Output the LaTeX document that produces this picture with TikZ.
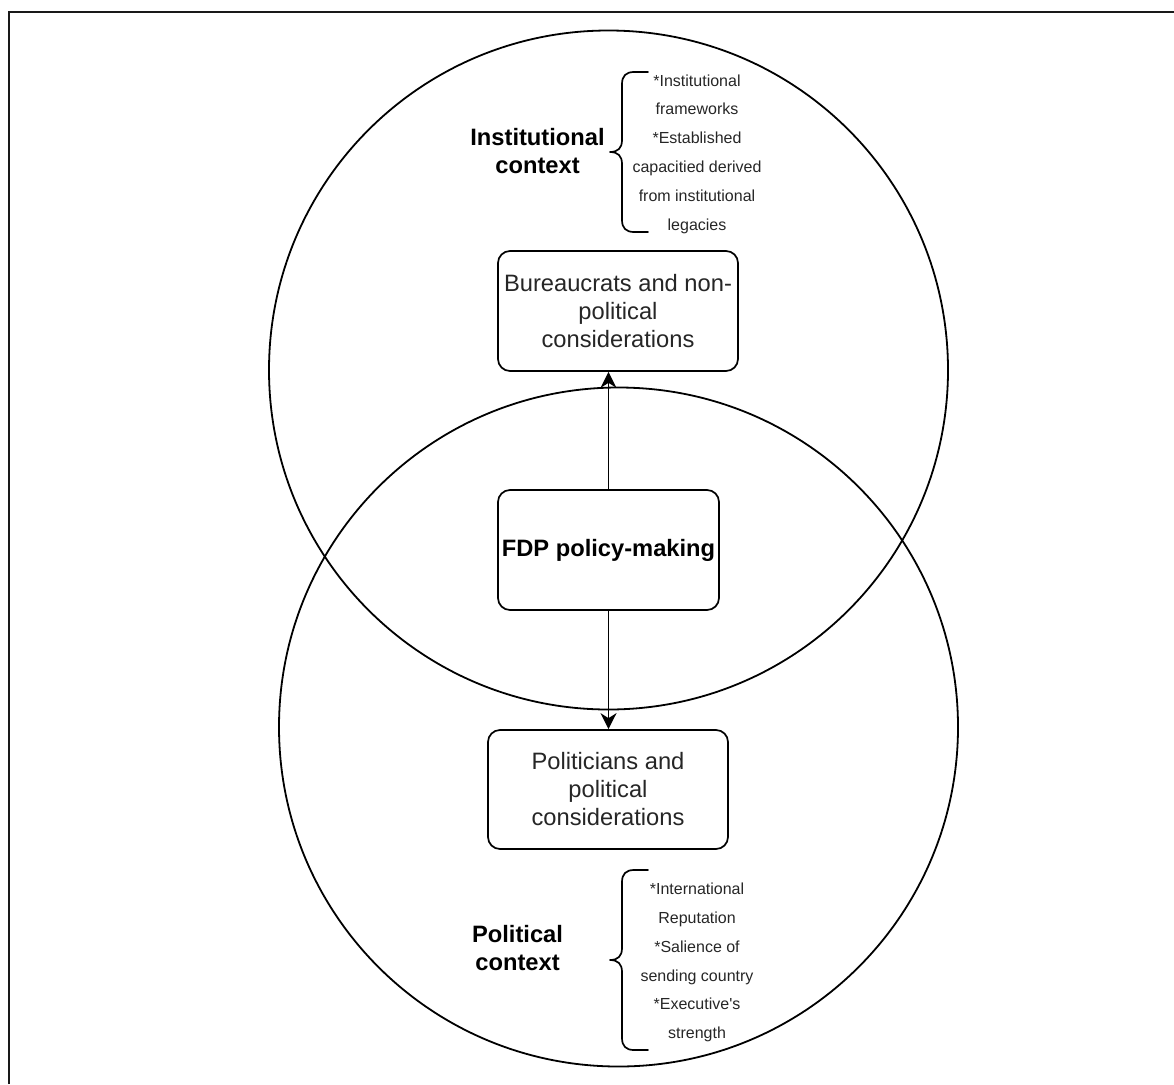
\documentclass[tikz,border=0pt]{standalone}
\usepackage{fontspec}
\setmainfont{Liberation Sans}
\usetikzlibrary{arrows.meta}
\begin{document}
\begin{tikzpicture}[x=1pt,y=-1pt,
  ring/.style={circle, draw, line width=1.8pt, inner sep=0pt, minimum size=679pt},
  actor/.style={draw, line width=1.7pt, rounded corners=12pt, fill=white, align=center,
                inner sep=0pt, font=\fontsize{23.7}{28}\selectfont, text=black!85},
  ctxlabel/.style={align=center, inner sep=0pt, font=\bfseries\fontsize{23.7}{28}\selectfont},
  factors/.style={align=center, inner sep=0pt, font=\fontsize{16}{28.8}\selectfont, text=black!85},
  brace/.style={line width=1.7pt, line cap=round, line join=round},
  link/.style={line width=1.7pt, -{Stealth[length=16pt, width=16pt, inset=5pt]}}
]
\useasboundingbox (0,0) rectangle (1174,1084);
% page frame
\draw[line width=1.8pt, black!90] (9,1084) -- (9,12) -- (1174,12);

% the two overlapping contexts
\node[ring] (instc) at (608.5,370) {};
\node[ring] (polc) at (618.5,727) {};

% actors
\node[actor, minimum width=240pt, minimum height=120pt] (bur) at (618,311)
  {Bureaucrats and non-\\political\\considerations};
\node[actor, minimum width=221pt, minimum height=120pt, font=\bfseries\fontsize{23.7}{28}\selectfont, text=black] (fdp) at (608.5,550)
  {FDP policy-making};
\node[actor, minimum width=240pt, minimum height=119pt] (pol) at (608,789.5)
  {Politicians and\\political\\considerations};

\draw[link] (fdp.north) -- (fdp.north |- bur.south);
\draw[link] (fdp.south) -- (fdp.south |- pol.north);

% institutional context and its factors
\node[ctxlabel] (instlab) at (537.5,151) {Institutional\\context};
\node[factors] (instfac) at (697,154)
  {*Institutional\\frameworks\\*Established\\capacitied derived\\from institutional\\legacies};
\draw[brace] (648,72) -- (634,72) .. controls (626,72) and (622,76) .. (622,84)
  -- (622,140) .. controls (622,148) and (618,152) .. (610,152)
  .. controls (618,152) and (622,156) .. (622,164)
  -- (622,220) .. controls (622,228) and (626,232) .. (634,232) -- (648,232);

% political context and its factors
\node[ctxlabel] (pollab) at (517.5,948) {Political\\context};
\node[factors] (polfac) at (697,962.5)
  {*International\\Reputation\\*Salience of\\sending country\\*Executive\textquotesingle s\\strength};
\draw[brace] (648,870) -- (634,870) .. controls (626,870) and (622,874) .. (622,882)
  -- (622,948) .. controls (622,956) and (618,960) .. (610,960)
  .. controls (618,960) and (622,964) .. (622,972)
  -- (622,1038) .. controls (622,1046) and (626,1050) .. (634,1050) -- (648,1050);
\end{tikzpicture}
\end{document}
